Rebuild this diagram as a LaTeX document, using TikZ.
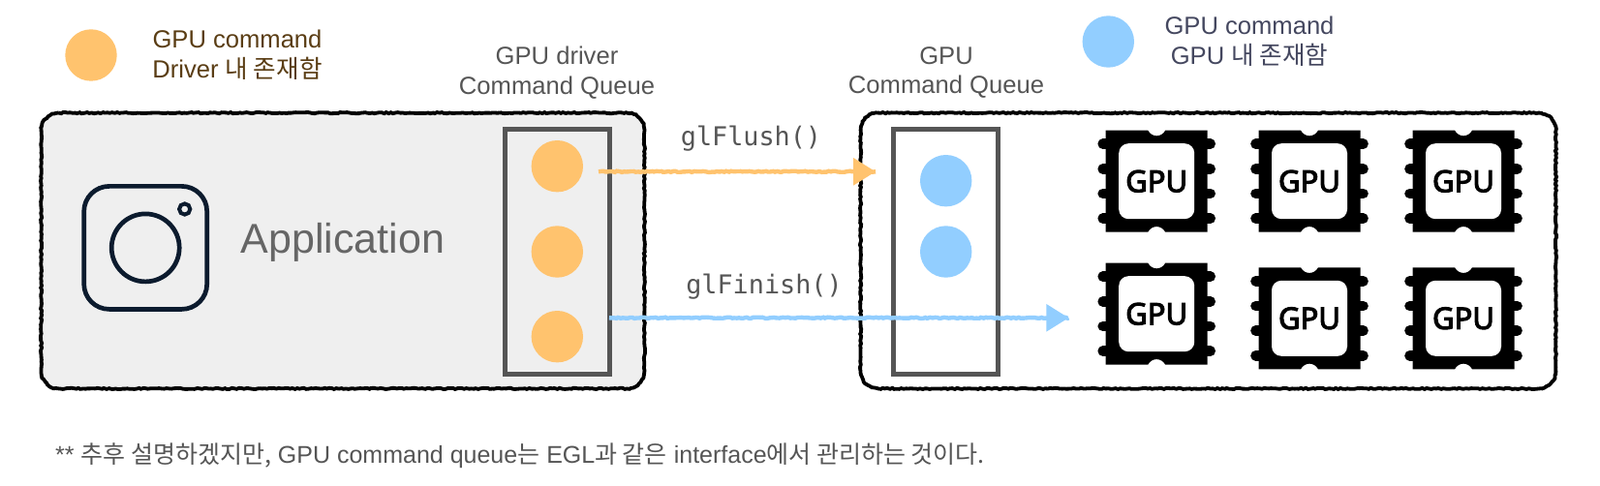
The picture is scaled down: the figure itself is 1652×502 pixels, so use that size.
\documentclass[tikz,border=0pt]{standalone}
\usepackage{fontspec}
\setmainfont{Liberation Sans}
\newfontfamily\krfont{Noto Sans CJK KR}
\newfontfamily\glfont{DejaVu Sans Mono}
\newfontfamily\chipfont[FakeBold=3.5]{Noto Sans}
\newcommand{\kr}[1]{{\krfont #1}}
\usetikzlibrary{arrows.meta,decorations.pathmorphing}
\definecolor{cmdorange}{HTML}{FFC36E}
\definecolor{cmdblue}{HTML}{92CEFF}
\definecolor{boxgray}{HTML}{EFEFEF}
\definecolor{queuegray}{HTML}{555555}
\definecolor{legendbrown}{HTML}{5A3D14}
\definecolor{legendnavy}{HTML}{44475F}
\definecolor{iconnavy}{HTML}{0C1B2E}
\newcommand{\roughbox}[1]{\draw[roughline] ([xshift=9pt]#1.north west)--([xshift=-9pt]#1.north east)
    arc[start angle=90, end angle=0, radius=9pt]--([yshift=9pt]#1.south east)
    arc[start angle=0, end angle=-90, radius=9pt]--([xshift=9pt]#1.south west)
    arc[start angle=270, end angle=180, radius=9pt]--([yshift=-9pt]#1.north west)
    arc[start angle=180, end angle=90, radius=9pt]--cycle;}
\tikzset{
    rough/.style={decorate, decoration={random steps, segment length=1.2pt, amplitude=.3pt}},
    roughline/.style={draw=black, line width=1.9pt, rough},
    mainbox/.style={rounded corners=9pt, minimum height=142pt},
    queuebox/.style={draw=queuegray, line width=2.4pt, minimum width=54pt, minimum height=126.5pt},
    cmd/.style={circle, inner sep=0pt, minimum size=26.7pt},
    label/.style={align=center, font=\fontsize{12.8}{15.3}\selectfont, text=queuegray},
    glcall/.style={font=\glfont\fontsize{13.4}{15}\selectfont, text=queuegray},
    flushline/.style={draw=#1, line width=1.4pt, -{Triangle[length=11.5pt, width=14pt, fill=#1]},
        preaction={draw=#1, line width=2.2pt, rough, -}},
    gpuchip/.pic={
        \fill (-52.5,-52.5)--(-9,-52.5) .. controls (-5,-45) and (5,-45) .. (9,-52.5)
            --(52.5,-52.5)--(52.5,52.5)--(9,52.5) .. controls (5,45) and (-5,45) .. (-9,52.5)
            --(-52.5,52.5)--cycle;
        \foreach \y in {-38.5,-12.7,12.7,38.5}
            \draw[line width=5.3pt, line cap=round] (-55.5,\y)--(55.5,\y);
        \fill[white, rounded corners=5pt] (-39,-39) rectangle (39,39);
        \node (-text) at (0,0) {\chipfont\fontsize{15.5}{15.5}\selectfont GPU};
    }
}
\begin{document}
\begin{tikzpicture}[x=0.5pt,y=-0.5pt]
    \useasboundingbox (0,0) rectangle (1652,502);
    % legend
    \node[cmd, fill=cmdorange] (legendorange) at (94,57) {};
    \node[label, text=legendbrown] (legendorangetext) at (245,57) {GPU command\\Driver \kr{내 존재함}};
    \node[cmd, fill=cmdblue] (legendblue) at (1144.3,43) {};
    \node[label, text=legendnavy] (legendbluetext) at (1290,43) {GPU command\\GPU \kr{내 존재함}};
    % boxes
    \node[mainbox, fill=boxgray, minimum width=311pt] (appbox) at (354,259) {};
    \node[mainbox, minimum width=358.5pt] (gpubox) at (1247.5,259) {};
    \roughbox{appbox}
    \roughbox{gpubox}
    \node[queuebox] (driverqueue) at (575.5,260) {};
    \node[queuebox] (gpuqueue) at (976.5,260) {};
    \node[label] (driverlabel) at (575,75) {GPU driver\\Command Queue};
    \node[label] (gpulabel) at (977,75) {GPU\\Command Queue};
    % application icon
    \node[draw=iconnavy, line width=2.35pt, rounded corners=13pt, minimum size=63.5pt] (iconbody) at (150.2,255.9) {};
    \node[draw=iconnavy, line width=2.35pt, circle, inner sep=0pt, minimum size=35pt] (iconlens) at (150.2,255.9) {};
    \node[draw=iconnavy, line width=2pt, circle, inner sep=0pt, minimum size=5.6pt] (icondot) at (190.7,216) {};
    \node[font=\fontsize{21.5}{24}\selectfont, text=black!60] (applabel) at (354,250.5) {Application};
    % commands
    \foreach \y [count=\i] in {171.7,260,347.7}
        \node[cmd, fill=cmdorange] (drivercmd\i) at (575.3,\y) {};
    \foreach \y [count=\i] in {186.7,260}
        \node[cmd, fill=cmdblue] (gpucmd\i) at (976.7,\y) {};
    % chips
    \pic (chipa) at (1194.2,187.2) {gpuchip};
    \pic (chipb) at (1352,187.2) {gpuchip};
    \pic (chipc) at (1511,187.2) {gpuchip};
    \pic (chipd) at (1194.2,324.2) {gpuchip};
    \pic (chipe) at (1352,328.8) {gpuchip};
    \pic (chipf) at (1511,328.8) {gpuchip};
    % calls
    \coordinate (flushstart) at (618,177.3);
    \coordinate (flushend) at (904,177.3);
    \coordinate (finishstart) at (629,328.3);
    \coordinate (finishend) at (1103.3,328.3);
    \draw[flushline=cmdorange] (flushstart)--(flushend);
    \draw[flushline=cmdblue] (finishstart)--(finishend);
    \node[glcall] (flushlabel) at (775.5,143) {glFlush()};
    \node[glcall] (finishlabel) at (789,296) {glFinish()};
    % note
    \node[label, anchor=west, font=\fontsize{12.5}{14}\selectfont] (notelabel) at (50,471) {** \kr{추후 설명하겠지만,} GPU command queue\kr{는} EGL\kr{과 같은} interface\kr{에서 관리하는 것이다.}};
\end{tikzpicture}
\end{document}
